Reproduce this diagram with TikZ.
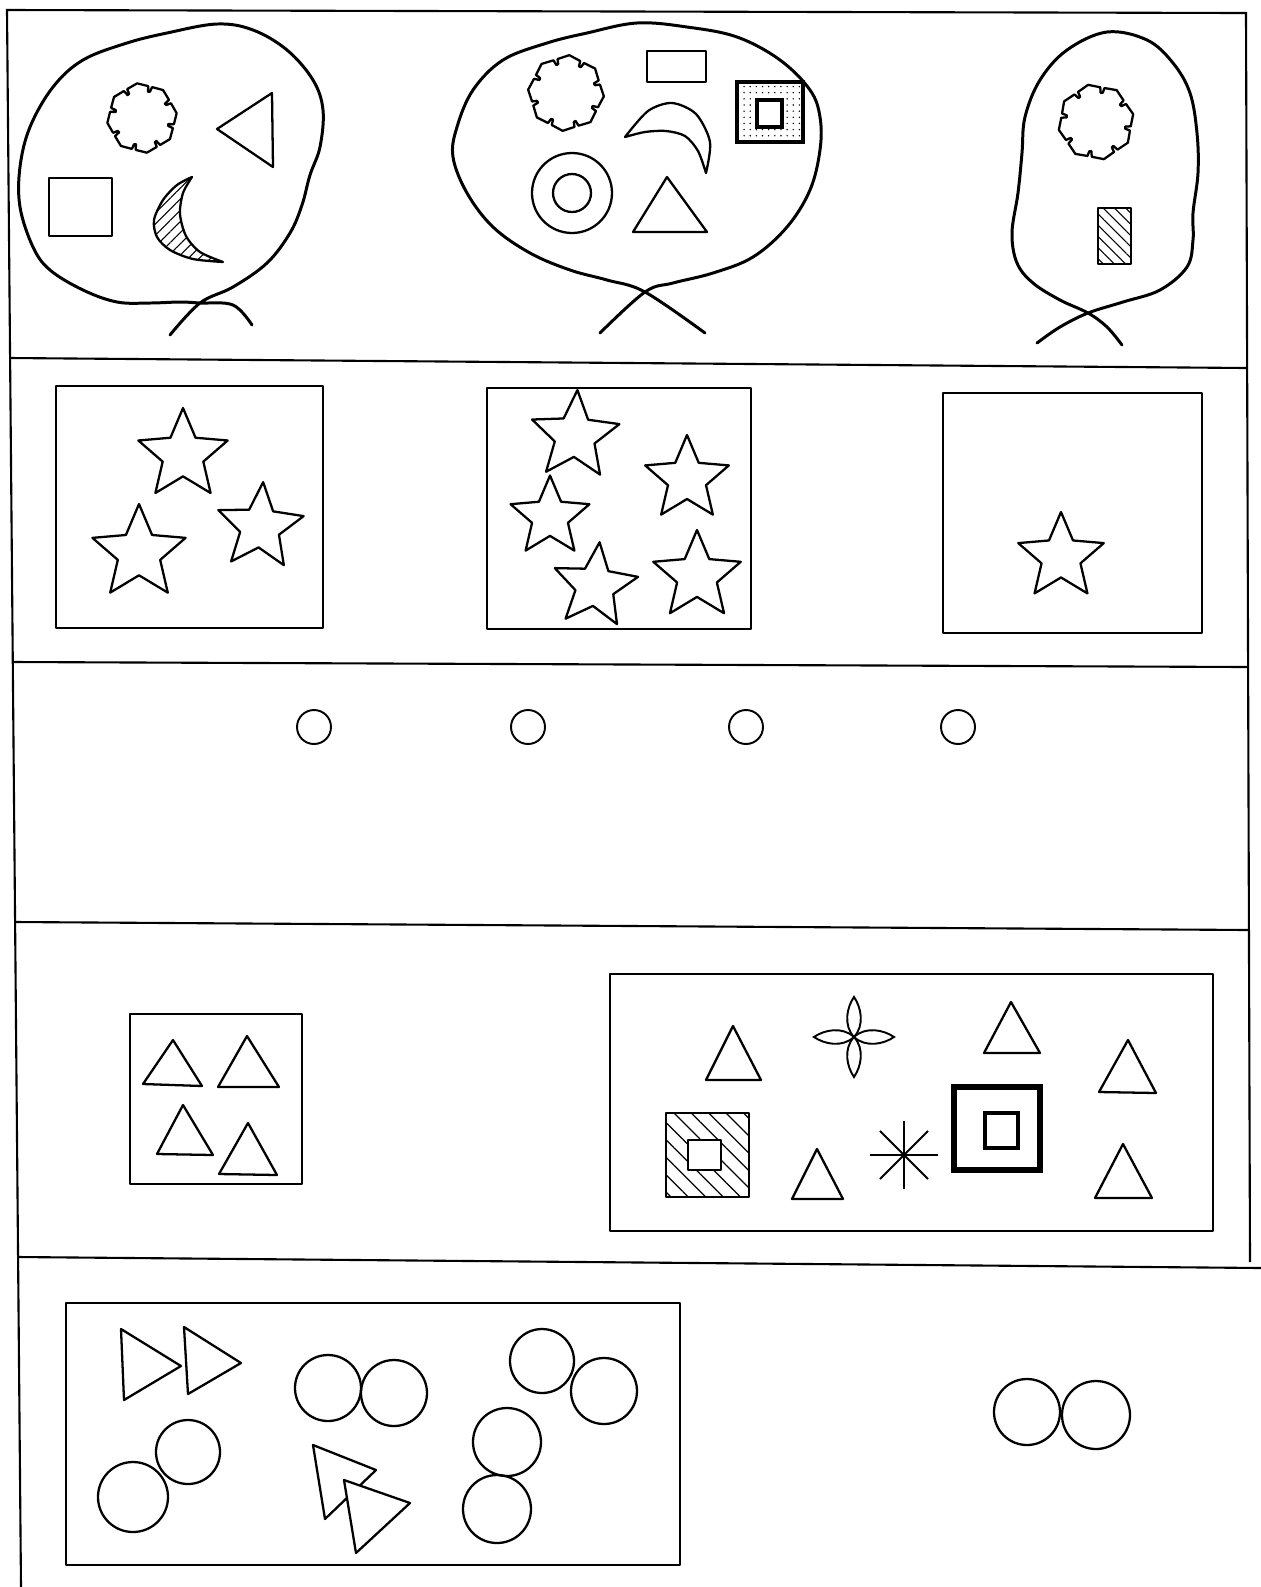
\documentclass[tikz,border=0pt]{standalone}
\usetikzlibrary{shapes.geometric, patterns.meta}

\begin{document}
\begin{tikzpicture}[x=0.02cm,y=-0.02cm,
  frameline/.style={line width=1.2pt},
  outline/.style={line width=1.7pt,line cap=round,line join=round},
  ink/.style={line width=1.3pt,line join=round},
  fineline/.style={line width=1.1pt},
  stardraw/.style={draw,star,star points=5,star point ratio=2.2,line width=1.3pt,line join=round,inner sep=0pt,outer sep=0pt,minimum size=#1},
  hatch/.style={pattern={Lines[angle=#1,distance=4.5pt,line width=0.6pt]}}]
\fill[white] (0,0) rectangle (1261,1587);
\useasboundingbox (0,0) rectangle (1261,1587);
% frame and rows
\draw[frameline] (21,1587) -- (7,10) -- (1246,13) -- (1250,1262);
\draw[frameline] (10,358) -- (1247,368);
\draw[frameline] (13,662) -- (1248,667);
\draw[frameline] (15,922) -- (1249,930);
\draw[frameline] (18,1257) -- (1261,1268);
% row 1: three heads
\draw[outline] plot[smooth,tension=0.6] coordinates {(170,335) (200,303) (233,287) (267,263) (290,233) (302,205) (310,175) (320,147) (323,110) (313,80) (287,50) (253,30) (217,24) (167,33) (127,43) (83,60) (53,87) (30,127) (20,167) (20,207) (33,247) (50,270) (83,290) (117,302) (150,303) (180,302) (200,303) (233,305) (252,325)};
\draw[ink,shift={(142,118)},rotate=8] (0:35) \foreach \a in {0,45,...,315}{ -- (\a+19:32.5) -- (\a+21:27) -- (\a+25:27.5) -- (\a+26:32.5) -- (\a+45:35)} -- cycle;
\draw[ink] (217,129) -- (272,93) -- (273,167) -- cycle;
\draw[ink] (49,178) rectangle (112,236);
\draw[ink,hatch=45] plot[smooth] coordinates {(192,177) (177,185) (163,200) (154,220) (157,237) (170,250) (193,259) (223,262)} -- plot[smooth] coordinates {(223,262) (200,252) (186,236) (180,214) (183,193) (192,177)} -- cycle;
\draw[outline] plot[smooth,tension=0.6] coordinates {(600,333) (645,292) (673,283) (713,273) (753,257) (787,227) (810,190) (820,150) (820,117) (810,90) (780,60) (737,37) (687,27) (637,23) (587,33) (547,43) (503,60) (473,90) (457,127) (453,157) (467,193) (493,227) (530,253) (570,270) (607,280) (645,292) (705,333)};
\draw[ink,shift={(566,93)},rotate=-5] (0:38) \foreach \a in {0,45,...,315}{ -- (\a+19:35) -- (\a+21:29.5) -- (\a+25:30) -- (\a+26:35) -- (\a+45:38)} -- cycle;
\draw[ink] (647,51) rectangle (706,82);
\draw[line width=1.9pt,pattern={Dots[distance=3.5pt,radius=0.45pt]},even odd rule] (737,82) rectangle (803,142) (757,100) rectangle (782,127);
\draw[ink] plot[smooth] coordinates {(625,137) (648,111) (672,103) (696,114) (710,142) (706,173)} -- plot[smooth] coordinates {(706,173) (698,151) (685,136) (666,131) (645,132) (625,137)} -- cycle;
\draw[ink] (572,193) circle[radius=40];
\draw[ink] (572,193) circle[radius=19];
\draw[ink] (667,177) -- (707,232) -- (633,232) -- cycle;
\draw[outline] plot[smooth,tension=0.6] coordinates {(1037,343) (1060,327) (1088,313) (1123,302) (1160,290) (1187,267) (1193,240) (1193,213) (1198,173) (1197,133) (1190,93) (1173,63) (1147,40) (1107,32) (1067,50) (1040,80) (1025,117) (1022,153) (1018,193) (1012,233) (1017,263) (1033,283) (1060,300) (1088,313) (1107,327) (1122,345)};
\draw[ink,shift={(1096,122)},rotate=12] (0:38) \foreach \a in {0,45,...,315}{ -- (\a+19:35) -- (\a+21:29.5) -- (\a+25:30) -- (\a+26:35) -- (\a+45:38)} -- cycle;
\draw[ink,hatch=-45] (1098,208) rectangle (1131,264);
% row 2: stars in boxes
\draw[ink] (56,386) rectangle (323,628);
\node[stardraw=1.88cm] (starA) at (183,455) {};
\node[stardraw=1.96cm] (starB) at (139,553) {};
\node[stardraw=1.8cm,rotate=-4] (starC) at (260,527) {};
\draw[ink] (487,388) rectangle (751,629);
\node[stardraw=1.84cm,rotate=-3] (starD) at (575,436) {};
\node[stardraw=1.76cm] (starE) at (687,479) {};
\node[stardraw=1.66cm] (starF) at (550,517) {};
\node[stardraw=1.76cm,rotate=-6] (starG) at (595,586) {};
\node[stardraw=1.84cm] (starH) at (697,576) {};
\draw[ink] (943,393) rectangle (1202,633);
\node[stardraw=1.8cm] (starI) at (1061,557) {};
% row 3: dots
\foreach \x in {314,528,746,958}
  \draw[fineline] (\x,727) circle[radius=17];
% row 4: triangles and figures
\draw[ink] (130,1014) rectangle (302,1184);
\draw[ink] (173,1040) -- (202,1086) -- (143,1084) -- cycle;
\draw[ink] (247,1036) -- (279,1087) -- (218,1087) -- cycle;
\draw[ink] (183,1105) -- (213,1155) -- (157,1154) -- cycle;
\draw[ink] (248,1123) -- (277,1175) -- (219,1174) -- cycle;
\draw[ink] (610,974) rectangle (1213,1231);
\draw[ink] (733,1026) -- (761,1080) -- (706,1080) -- cycle;
\foreach \a in {0,90,180,270}
  \draw[fineline,shift={(854,1037)},rotate=\a] (0,0) .. controls (12,-11) and (30,-7) .. (40,0) .. controls (30,7) and (12,11) .. (0,0);
\draw[ink] (1011,1002) -- (1040,1053) -- (984,1053) -- cycle;
\draw[ink] (1128,1040) -- (1156,1093) -- (1099,1092) -- cycle;
\draw[ink,pattern={Lines[angle=-45,distance=7pt,line width=0.7pt]},even odd rule] (666,1113) rectangle (749,1197) (688,1140) rectangle (721,1170);
\draw[ink] (817,1149) -- (843,1199) -- (792,1199) -- cycle;
\foreach \a in {0,45,...,315}
  \draw[fineline] (904,1155) -- ++(\a:34);
\draw[line width=3pt] (954,1087) rectangle (1040,1170);
\draw[line width=2.6pt] (985,1113) rectangle (1018,1148);
\draw[ink] (1123,1144) -- (1152,1198) -- (1095,1198) -- cycle;
% row 5: pairs
\draw[ink] (66,1303) rectangle (680,1565);
\draw[ink] (121,1329) -- (181,1366) -- (124,1400) -- cycle;
\draw[ink] (184,1327) -- (241,1363) -- (188,1394) -- cycle;
\draw[ink] (328,1388) circle[radius=33];
\draw[ink] (394,1393) circle[radius=33];
\draw[ink] (542,1361) circle[radius=32];
\draw[ink] (604,1391) circle[radius=33];
\draw[ink] (188,1452) circle[radius=32];
\draw[ink] (133,1497) circle[radius=35];
\draw[ink] (507,1442) circle[radius=34];
\draw[ink] (497,1509) circle[radius=34];
\draw[ink,fill=white] (313,1445) -- (376,1470) -- (325,1519) -- cycle;
\draw[ink,fill=white] (344,1480) -- (410,1503) -- (356,1553) -- cycle;
\draw[ink] (1027,1412) circle[radius=33];
\draw[ink] (1096,1415) circle[radius=34];
\end{tikzpicture}
\end{document}
